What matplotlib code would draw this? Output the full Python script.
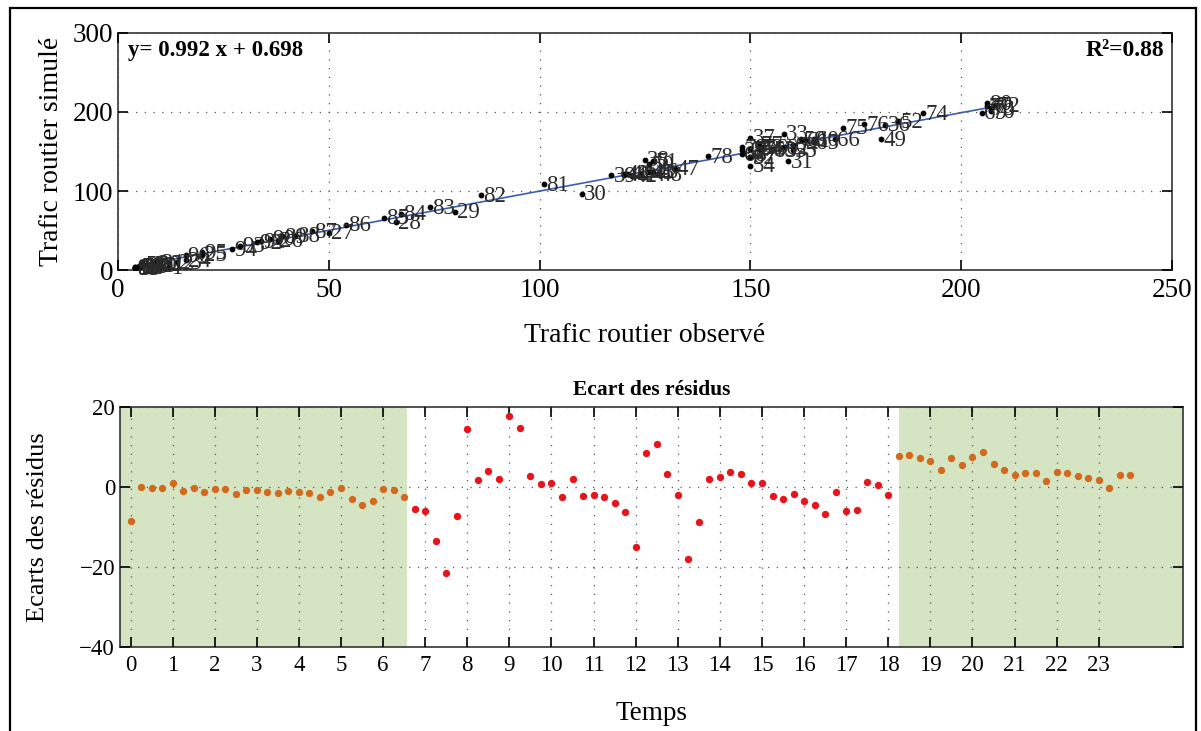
import matplotlib
matplotlib.use('Agg')
import numpy as np
import matplotlib.pyplot as plt
from matplotlib.patches import Rectangle

plt.rcParams['font.family'] = ['Liberation Serif', 'DejaVu Serif']
plt.rcParams['font.size'] = 15

# residuals (simulated - observed) every quarter hour, 96 values
residuals = [-8.6, 0.0, -0.3, -0.3, 1.0, -0.9, -0.3, -1.3, -0.4, -0.4, -1.8, -0.8,
             -0.8, -1.3, -1.5, -0.9, -1.3, -1.5, -2.6, -1.3, -0.3, -2.9, -4.4, -3.5,
             -0.6, -0.7, -2.6, -5.5, -6.0, -13.4, -21.4, -7.3, 14.5, 1.7, 4.1, 2.0,
             17.7, 14.8, 2.8, 0.7, 1.0, -2.6, 1.9, -2.3, -2.1, -2.5, -3.9, -6.3,
             -15.0, 8.4, 10.7, 3.3, -2.1, -18.0, -8.7, 2.1, 2.6, 3.7, 3.2, 1.0,
             1.1, -2.3, -2.9, -1.8, -3.4, -4.6, -6.7, -1.3, -6.0, -5.8, 1.2, 0.6,
             -1.9, 7.7, 8.1, 7.2, 6.5, 4.2, 7.2, 5.4, 7.4, 8.8, 5.7, 4.2,
             3.1, 3.6, 3.5, 1.5, 3.8, 3.6, 2.7, 2.2, 1.7, -0.3, 3.0, 3.0]

# observed road traffic for the same 96 quarter hours
observed = [12, 9, 8, 7, 6, 5, 5, 4, 4, 4, 4, 4,
            5, 5, 5, 6, 6, 7, 8, 9, 10, 12, 14, 16,
            20, 38, 50, 66, 80, 110, 159, 150, 158, 152, 148, 182,
            150, 125, 117, 120, 121, 122, 120, 124, 126, 127, 132, 128,
            181, 126, 127, 185, 155, 150, 160, 153, 150, 152, 162, 165,
            163, 158, 155, 160, 165, 170, 150, 148, 205, 207, 206, 208,
            207, 191, 172, 177, 152, 140, 148, 206, 101, 86, 74, 67,
            63, 54, 46, 42, 39, 36, 34, 33, 29, 27, 20, 16]

slope, intercept, r2 = 0.992, 0.698, 0.88
hour_ticks = list(range(24))

observed = np.array(observed, dtype=float)
simulated = observed + np.array(residuals)
labels = [str(i + 1) for i in range(len(observed))]
times = np.arange(len(residuals)) * 0.25

fig = plt.figure(figsize=(12.01, 7.31), dpi=100)

# --- top: simulated vs observed ---
ax1 = fig.add_axes([0.0983, 0.6306, 0.8776, 0.3243])
xs = np.array([observed.min(), observed.max()])
ax1.plot(xs, slope * xs + intercept, color='#3a5fb0', lw=1.2, zorder=2)
ax1.scatter(observed, simulated, s=10, color='black', zorder=3)
for xo, ys, lab in zip(observed, simulated, labels):
    ax1.text(xo + 0.5, ys - 1.5, lab, fontsize=16.5, color='#2a2a2a',
             ha='left', va='center', zorder=4)
ax1.set_xlim(0, 250)
ax1.set_ylim(0, 300)
ax1.set_xticks([0, 50, 100, 150, 200, 250])
ax1.set_yticks([0, 100, 200, 300])
ax1.set_xlabel('Trafic routier observé', fontsize=20, labelpad=14)
ax1.set_ylabel('Trafic routier simulé', fontsize=20, labelpad=6)
ax1.text(0.009, 0.925, f'y= {slope} x + {intercept}', transform=ax1.transAxes,
         fontsize=16.5, fontweight='bold', ha='left', va='center')
ax1.text(0.993, 0.925, f'R²={r2}', transform=ax1.transAxes,
         fontsize=17, fontweight='bold', ha='right', va='center')

# --- bottom: residuals over time ---
ax2 = fig.add_axes([0.0999, 0.1149, 0.8851, 0.3283])
ax2.axvspan(-0.25, 6.57, color='#d5e5c3', lw=0, zorder=0)
ax2.axvspan(18.25, 25, color='#d5e5c3', lw=0, zorder=0)
res = np.array(residuals)
night = (times <= 6.5) | (times >= 18.25)
ax2.scatter(times[night], res[night], s=28, color='#d2691e', zorder=3, lw=0)
ax2.scatter(times[~night], res[~night], s=28, color='#e8141c', zorder=3, lw=0)
ax2.set_xlim(-0.25, 25)
ax2.set_ylim(-40, 20)
ax2.set_xticks(hour_ticks)
ax2.set_yticks([-40, -20, 0, 20])
ax2.set_yticklabels(['−40', '−20', '0', '20'])
ax2.set_xlabel('Temps', fontsize=19.5, labelpad=18)
ax2.set_ylabel('Ecarts des résidus', fontsize=19, labelpad=22)
ax2.set_title('Ecart des résidus', fontweight='bold', fontsize=15.5, pad=9)

for ax, lsize in ((ax1, 19.5), (ax2, 16.5)):
    ax.grid(True, linestyle=(0, (1, 6)), color='#555555', lw=0.9)
    ax.set_axisbelow(False)
    ax.tick_params(direction='in', top=True, right=True, length=7, width=1.2,
                   labelsize=lsize)
    for sp in ax.spines.values():
        sp.set_linewidth(1.2)
        sp.set_color('#333333')
    ax.tick_params(axis='x', pad=6)

# outer frame
fig.patches.append(Rectangle((0.008, -0.01), 0.988, 0.999, transform=fig.transFigure,
                             fill=False, lw=1.6, color='black'))

fig.savefig('out.png', dpi=100)
